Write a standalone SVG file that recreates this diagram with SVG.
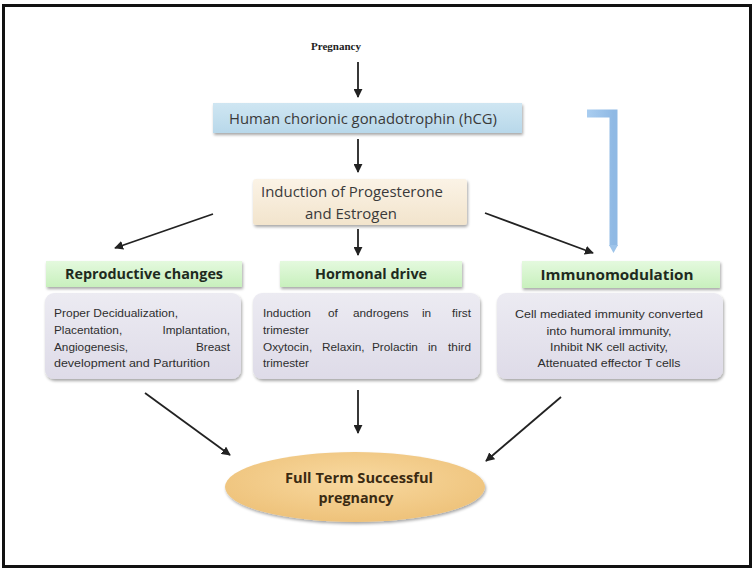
<svg xmlns="http://www.w3.org/2000/svg" width="756" height="571" viewBox="0 0 756 571">
<defs>
<style>
.body{font-family:"Liberation Sans",Arial,sans-serif;font-size:11.8px;fill:#2e2e2e}
.title{font-family:"Open Sans","Liberation Sans",sans-serif;font-size:14px;font-weight:bold;fill:#1e2a1e}
.mid{font-family:"Open Sans","Liberation Sans",sans-serif;font-size:14.5px;fill:#3a3a3a}
.conn{stroke:#222;stroke-width:1.8;fill:none;marker-end:url(#ah)}
</style>
<marker id="ah" viewBox="0 0 10 10" refX="9" refY="5" markerWidth="5" markerHeight="5" orient="auto" markerUnits="strokeWidth">
<path d="M0,0 L10,5 L0,10 z" fill="#222"/>
</marker>
<filter id="sh" x="-10%" y="-20%" width="120%" height="150%">
<feGaussianBlur in="SourceAlpha" stdDeviation="1.5"/>
<feOffset dx="1" dy="2" result="b"/>
<feComponentTransfer><feFuncA type="linear" slope="0.35"/></feComponentTransfer>
<feMerge><feMergeNode/><feMergeNode in="SourceGraphic"/></feMerge>
</filter>
<linearGradient id="gBlue" x1="0" y1="0" x2="0" y2="1"><stop offset="0" stop-color="#cfe6f2"/><stop offset="1" stop-color="#b8d8ea"/></linearGradient>
<linearGradient id="gBeige" x1="0" y1="0" x2="0" y2="1"><stop offset="0" stop-color="#fbf3e6"/><stop offset="1" stop-color="#f2e4cc"/></linearGradient>
<linearGradient id="gGreen" x1="0" y1="0" x2="0" y2="1"><stop offset="0" stop-color="#e4f9de"/><stop offset="1" stop-color="#c8f0bd"/></linearGradient>
<linearGradient id="gLav" x1="0" y1="0" x2="0" y2="1"><stop offset="0" stop-color="#ecebf2"/><stop offset="1" stop-color="#dedbe8"/></linearGradient>
<radialGradient id="gOr" cx="0.5" cy="0.4" r="0.6"><stop offset="0" stop-color="#f8d9a0"/><stop offset="1" stop-color="#eec27a"/></radialGradient>
<linearGradient id="gBr" x1="0" y1="0" x2="1" y2="0"><stop offset="0" stop-color="#a9cdf0"/><stop offset="1" stop-color="#8fb9e4"/></linearGradient>
</defs>
<rect x="0" y="0" width="756" height="571" fill="#fff"/>
<rect x="3.5" y="5.5" width="747" height="561" fill="none" stroke="#111" stroke-width="3"/>

<g id="pregnancy">
<text x="336" y="50" text-anchor="middle" font-family="Liberation Serif,serif" font-weight="bold" font-size="11" fill="#222">Pregnancy</text>
</g>

<g id="hcg">
<rect x="213" y="103" width="309" height="30" fill="url(#gBlue)" filter="url(#sh)"/>
<text class="mid" x="363" y="124" text-anchor="middle" textLength="268" lengthAdjust="spacingAndGlyphs">Human chorionic gonadotrophin (hCG)</text>
</g>

<g id="progesterone">
<rect x="253" y="179" width="214" height="46" rx="3" fill="url(#gBeige)" filter="url(#sh)"/>
<text class="mid" x="352" y="197" text-anchor="middle" textLength="182" lengthAdjust="spacingAndGlyphs">Induction of Progesterone</text>
<text class="mid" x="351" y="219" text-anchor="middle" textLength="92" lengthAdjust="spacingAndGlyphs">and Estrogen</text>
</g>

<g id="reproductive">
<rect x="46" y="261" width="196" height="26" fill="url(#gGreen)" filter="url(#sh)"/>
<text class="title" x="144" y="279" text-anchor="middle" textLength="158" lengthAdjust="spacingAndGlyphs">Reproductive changes</text>
</g>
<g id="reproductive-body">
<rect x="45" y="293" width="196" height="86" rx="9" fill="url(#gLav)" filter="url(#sh)"/>
<text class="body" x="54" y="317" textLength="124" lengthAdjust="spacingAndGlyphs">Proper Decidualization,</text>
<text class="body" x="54" y="334">Placentation,</text>
<text class="body" x="230" y="334" text-anchor="end">Implantation,</text>
<text class="body" x="54" y="351">Angiogenesis,</text>
<text class="body" x="230" y="351" text-anchor="end">Breast</text>
<text class="body" x="54" y="367" textLength="156" lengthAdjust="spacingAndGlyphs">development and Parturition</text>
</g>

<g id="hormonal">
<rect x="280" y="261" width="182" height="26" fill="url(#gGreen)" filter="url(#sh)"/>
<text class="title" x="371" y="279" text-anchor="middle" textLength="112" lengthAdjust="spacingAndGlyphs">Hormonal drive</text>
</g>
<g id="hormonal-body">
<rect x="253" y="293" width="227" height="86" rx="9" fill="url(#gLav)" filter="url(#sh)"/>
<text class="body" x="263" y="317">Induction</text>
<text class="body" x="328" y="317">of</text>
<text class="body" x="353" y="317">androgens</text>
<text class="body" x="422" y="317">in</text>
<text class="body" x="471" y="317" text-anchor="end">first</text>
<text class="body" x="263" y="334">trimester</text>
<text class="body" x="263" y="351">Oxytocin,</text>
<text class="body" x="322" y="351">Relaxin,</text>
<text class="body" x="372" y="351">Prolactin</text>
<text class="body" x="428" y="351">in</text>
<text class="body" x="471" y="351" text-anchor="end">third</text>
<text class="body" x="263" y="367">trimester</text>
</g>

<g id="immuno">
<rect x="522" y="261" width="198" height="27" fill="url(#gGreen)" filter="url(#sh)"/>
<text class="title" x="617" y="280" text-anchor="middle" textLength="153" lengthAdjust="spacingAndGlyphs">Immunomodulation</text>
</g>
<g id="immuno-body">
<rect x="497" y="293" width="226" height="86" rx="9" fill="url(#gLav)" filter="url(#sh)"/>
<text class="body" x="609" y="318" text-anchor="middle" textLength="188" lengthAdjust="spacingAndGlyphs">Cell mediated immunity converted</text>
<text class="body" x="609" y="335" text-anchor="middle" textLength="125" lengthAdjust="spacingAndGlyphs">into humoral immunity,</text>
<text class="body" x="609" y="351" text-anchor="middle" textLength="118" lengthAdjust="spacingAndGlyphs">Inhibit NK cell activity,</text>
<text class="body" x="609" y="367" text-anchor="middle" textLength="143" lengthAdjust="spacingAndGlyphs">Attenuated effector T cells</text>
</g>

<g id="outcome">
<ellipse cx="355" cy="487" rx="130" ry="35" fill="url(#gOr)" filter="url(#sh)"/>
<text class="title" x="359" y="483" text-anchor="middle" textLength="148" lengthAdjust="spacingAndGlyphs" style="fill:#3a2a12">Full Term Successful</text>
<text class="title" x="356" y="503" text-anchor="middle" textLength="75" lengthAdjust="spacingAndGlyphs" style="fill:#3a2a12">pregnancy</text>
</g>

<g id="feedback">
<path d="M587,113.5 H613.5 V246" fill="none" stroke="url(#gBr)" stroke-width="8"/>
<path d="M609,245 L618,245 L613.5,253 z" fill="#9ec4ea"/>
</g>

<g id="connectors">
<line class="conn" x1="358" y1="62" x2="358" y2="97"/>
<line class="conn" x1="358" y1="139" x2="358" y2="172"/>
<line class="conn" x1="358" y1="229" x2="358" y2="255"/>
<line class="conn" x1="213" y1="214" x2="115" y2="248"/>
<line class="conn" x1="485" y1="213" x2="593" y2="253"/>
<line class="conn" x1="145" y1="393" x2="230" y2="455"/>
<line class="conn" x1="358" y1="390" x2="358" y2="433"/>
<line class="conn" x1="561" y1="397" x2="486" y2="461"/>
</g>
</svg>
